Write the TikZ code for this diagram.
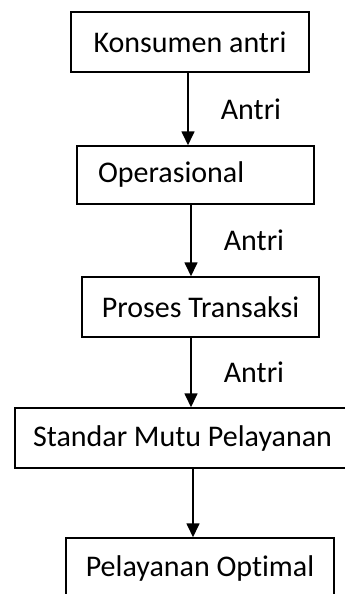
\documentclass[tikz,border=0pt]{standalone}
\usepackage{fontspec}
\setmainfont{Carlito}[Ligatures=NoCommon]
\usetikzlibrary{arrows.meta}

\begin{document}
\begin{tikzpicture}[x=1pt,y=-1pt,
  box/.style={draw,line width=1.5pt,minimum height=60pt,inner sep=0pt,font=\fontsize{30}{36}\selectfont},
  arrow/.style={line width=1.7pt,-{Triangle[width=13pt,length=14pt]}},
  lbl/.style={inner sep=0pt,font=\fontsize{30}{36}\selectfont}]
\useasboundingbox (0,0) rectangle (345,594);
\clip (0,0) rectangle (345,594);
\node[box,minimum width=238pt] (konsumen) at (190,42) {Konsumen antri};
\node[box,minimum height=58pt,text width=195pt,inner xsep=21pt,align=left] (operasional) at (195.5,175) {Operasional};
\node[box,minimum width=237pt] (proses) at (200.5,307) {Proses Transaksi};
\node[box,minimum width=335pt] (standar) at (182.5,438) {Standar Mutu Pelayanan};
\node[box,minimum width=268pt] (optimal) at (200,568) {Pelayanan Optimal};
\foreach \from/\to/\x/\txt in {konsumen/operasional/188/Antri,operasional/proses/191/Antri,proses/standar/191/Antri,standar/optimal/193/}
  \draw[arrow] (\x,0 |- \from.south) -- node[lbl,right=32pt] (antri\from) {\txt} (\x,0 |- \to.north);
\end{tikzpicture}
\end{document}
